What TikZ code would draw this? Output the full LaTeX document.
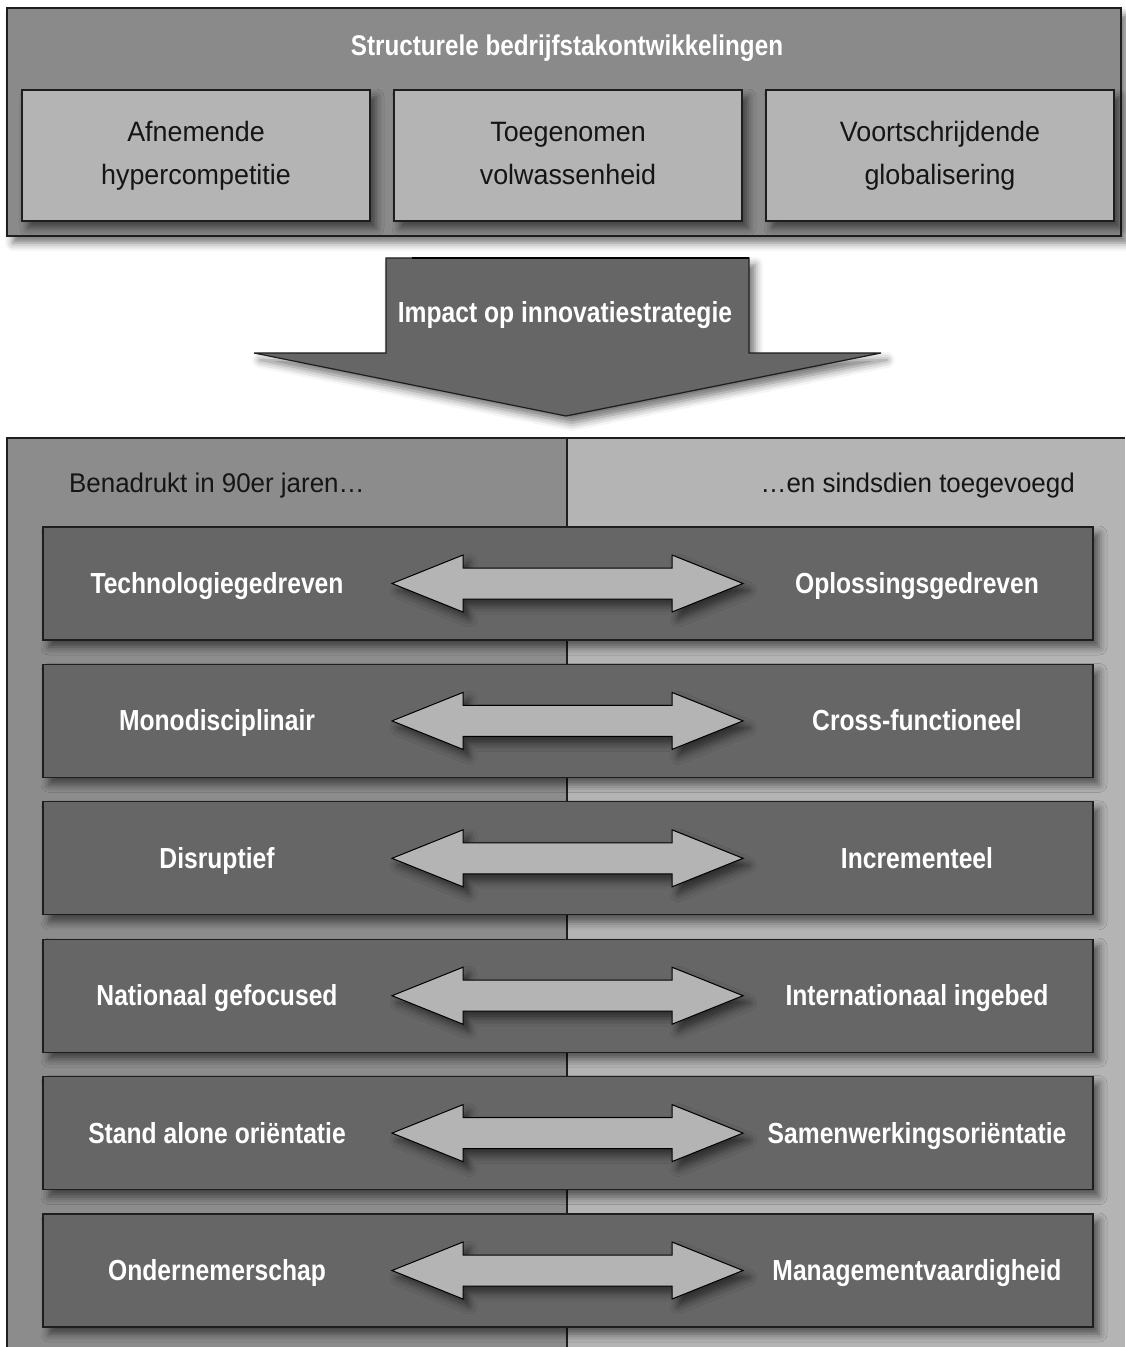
\documentclass[tikz,border=0pt]{standalone}
\usepackage{fontspec}
\newfontfamily\regf{Liberation Sans}[FakeStretch=0.96]
\newfontfamily\boldf{Liberation Sans Bold}[FakeStretch=0.85]
\usetikzlibrary{shadows.blur}
\definecolor{toppanel}{HTML}{8A8A8A}
\definecolor{lightbox}{HTML}{B4B4B4}
\definecolor{darkbox}{HTML}{666666}
\definecolor{lpanel}{HTML}{8C8C8C}
\definecolor{rpanel}{HTML}{B4B4B4}
\definecolor{edgec}{HTML}{1E1E1E}
\definecolor{txtdark}{HTML}{151515}
\tikzset{
  myshadow/.style={blur shadow={shadow xshift=6pt, shadow yshift=-7pt, shadow blur radius=8pt, shadow opacity=55}},
  edge/.style={draw=edgec, line width=1.3pt},
  panelbox/.style={edge, fill=toppanel, myshadow, minimum width=1114pt, minimum height=228pt, inner sep=0pt},
  lbox/.style={edge, fill=lightbox, myshadow, minimum width=348pt, minimum height=131pt, inner sep=0pt},
  lboxtxt/.style={align=center, font=\regf\fontsize{28}{43}\selectfont, text=txtdark, inner sep=0pt,
     text height=64pt, text depth=6pt},
  rowbox/.style={edge, fill=darkbox, myshadow, minimum width=1050pt, minimum height=113pt, inner sep=0pt},
  rowtxt/.style={font=\boldf\fontsize{29}{34}\selectfont, text=white, inner sep=0pt, anchor=base},
  hdrtxt/.style={font=\regf\fontsize{27}{32}\selectfont, text=txtdark, inner sep=0pt},
  dblarrow/.style={draw=black, line width=1pt, fill=lightbox, myshadow},
  bigarrow/.style={draw=edgec, line width=1.2pt, fill=darkbox, myshadow}
}
\begin{document}
\begin{tikzpicture}[x=1pt,y=-1pt]
\useasboundingbox (0,0) rectangle (1125,1347);
% lower panel
\fill[lpanel] (7,438) rectangle (567,1347);
\fill[rpanel] (567,438) rectangle (1125,1347);
\draw[edge] (7,1347) -- (7,438) -- (1125,438);
\draw[edge] (567,438) -- (567,1347);
\node[hdrtxt, anchor=base west] (hl) at (69,492) {Benadrukt in 90er jaren…};
\node[hdrtxt, anchor=base east] (hr) at (1075,492) {…en sindsdien toegevoegd};
% top panel
\node[panelbox] (top) at (564,122) {};
\node[font=\boldf\fontsize{28.5}{30}\selectfont, text=white, inner sep=0pt, anchor=base] (title) at (567,55) {Structurele bedrijfstakontwikkelingen};
\node[lbox] (b1) at (196,155.5) {};
\node[lbox] (b2) at (568,155.5) {};
\node[lbox] (b3) at (940,155.5) {};
\node[lboxtxt] (t1) at (b1.center) {Afnemende\\hypercompetitie};
\node[lboxtxt] (t2) at (b2.center) {Toegenomen\\volwassenheid};
\node[lboxtxt] (t3) at (b3.center) {Voortschrijdende\\globalisering};
% big arrow
\draw[bigarrow] (386,258) -- (749,258) -- (749,353) -- (881,353) -- (566,416) -- (254,353) -- (386,353) -- cycle;
\draw[black, line width=2.5pt] (412,258) -- (749,258);
\node[font=\boldf\fontsize{29}{32}\selectfont, text=white, inner sep=0pt, anchor=base] (impact) at (565,322) {Impact op innovatiestrategie};
% rows
\foreach \i/\l/\r in {0/Technologiegedreven/Oplossingsgedreven,
                      1/Monodisciplinair/Cross-functioneel,
                      2/Disruptief/Incrementeel,
                      3/Nationaal gefocused/Internationaal ingebed,
                      4/Stand alone oriëntatie/Samenwerkingsoriëntatie,
                      5/Ondernemerschap/Managementvaardigheid}{
  \node[rowbox] (row\i) at (568,{583.5+137.4*\i}) {};
  \node[rowtxt] (L\i) at ([xshift=-351pt,yshift=-10pt]row\i.center) {\l};
  \node[rowtxt] (R\i) at ([xshift=349pt,yshift=-10pt]row\i.center) {\r};
  \draw[dblarrow, shift={(row\i.center)}]
     (-176,0) -- (-105,-28.5) -- (-105,-15.5) -- (104,-15.5) -- (104,-28.5) -- (175,0)
     -- (104,28.5) -- (104,15.5) -- (-105,15.5) -- (-105,28.5) -- cycle;
}
\end{tikzpicture}
\end{document}
